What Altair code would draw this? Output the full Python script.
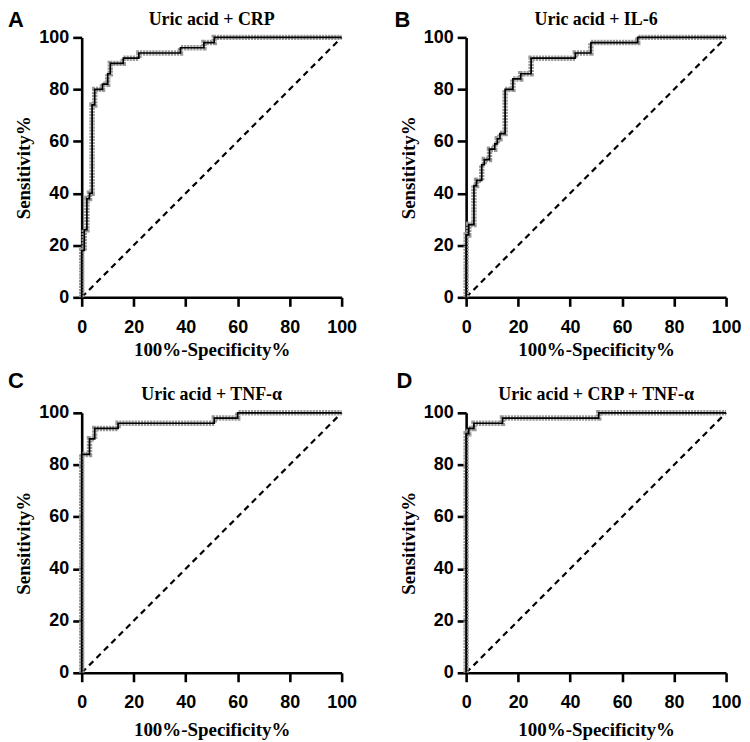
import altair as alt
import pandas as pd

# ---- data ----
x_ticks = [0, 20, 40, 60, 80, 100]
y_ticks = [0, 20, 40, 60, 80, 100]
ref_x = [0, 100]
ref_y = [0, 100]

# A: Uric acid + CRP
a_fpr = [0, 0, 1, 1, 2, 2, 3, 3, 4, 4, 5, 5, 8, 8, 10, 10, 11, 11, 16, 16, 22, 22, 38, 38, 47, 47, 51, 51, 100]
a_tpr = [0, 18, 18, 26, 26, 38, 38, 40, 40, 74, 74, 80, 80, 82, 82, 86, 86, 90, 90, 92, 92, 94, 94, 96, 96, 98, 98, 100, 100]

# B: Uric acid + IL-6
b_fpr = [0, 0, 1, 1, 3, 3, 4, 4, 6, 6, 7, 7, 9, 9, 11, 11, 12, 12, 13, 13, 15, 15, 18, 18, 21, 21, 25, 25, 42, 42, 48, 48, 66, 66, 100]
b_tpr = [0, 24, 24, 28, 28, 43, 43, 45, 45, 51, 51, 53, 53, 57, 57, 59, 59, 61, 61, 63, 63, 80, 80, 84, 84, 86, 86, 92, 92, 94, 94, 98, 98, 100, 100]

# C: Uric acid + TNF-alpha
c_fpr = [0, 0, 3, 3, 5, 5, 14, 14, 51, 51, 60, 60, 100]
c_tpr = [0, 84, 84, 90, 90, 94, 94, 96, 96, 98, 98, 100, 100]

# D: Uric acid + CRP + TNF-alpha
d_fpr = [0, 0, 1, 1, 3, 3, 14, 14, 51, 51, 100]
d_tpr = [0, 92, 92, 94, 94, 96, 96, 98, 98, 100, 100]

titles = ["Uric acid + CRP", "Uric acid + IL-6", "Uric acid + TNF-\u03b1", "Uric acid + CRP + TNF-\u03b1"]
letters = ["A", "B", "C", "D"]

SANS = "Liberation Sans"
SERIF = "Liberation Serif"
W = 261
H = 261


def panel(fpr, tpr, title, letter, lx, ly, ty, xtpad):
    df = pd.DataFrame({"fpr": fpr, "tpr": tpr, "idx": list(range(len(fpr)))})
    ref = pd.DataFrame({"fpr": ref_x, "tpr": ref_y})
    lab = pd.DataFrame({"t": [letter], "title": [title]})
    xs = alt.Scale(domain=[0, 100], nice=False)
    ys = alt.Scale(domain=[0, 100], nice=False)
    xax = alt.Axis(values=x_ticks, title="100%-Specificity%", labelFlush=False,
                   labelPadding=12, titlePadding=xtpad)
    yax = alt.Axis(values=y_ticks, title="Sensitivity%", labelFlush=False,
                   labelPadding=4, titlePadding=5)
    X = alt.X("fpr:Q", scale=xs, axis=xax)
    Y = alt.Y("tpr:Q", scale=ys, axis=yax)

    diag = alt.Chart(ref).mark_line(color="black", strokeDash=[6, 4.5], strokeWidth=2.2).encode(x=X, y=Y)
    halo = alt.Chart(df).mark_line(color="#9a9a9a", strokeWidth=5.5, strokeDash=[2.2, 0.9],
                                   strokeCap="butt", clip=False).encode(x=X, y=Y, order="idx:Q")
    line = alt.Chart(df).mark_line(color="black", strokeWidth=1.7, clip=False).encode(x=X, y=Y, order="idx:Q")
    letter_txt = alt.Chart(lab).mark_text(font=SANS, fontSize=22, fontWeight="bold", align="left",
                                          baseline="top", color="black").encode(
        text="t:N", x=alt.value(lx), y=alt.value(ly))
    title_txt = alt.Chart(lab).mark_text(font=SERIF, fontSize=18, fontWeight="bold", align="center",
                                         baseline="alphabetic", color="black").encode(
        text="title:N", x=alt.value(W / 2), y=alt.value(ty))
    return alt.layer(diag, halo, line, letter_txt, title_txt).properties(width=W, height=H)


pa = panel(a_fpr, a_tpr, titles[0], letters[0], -74, -27, -12, 4)
pb = panel(b_fpr, b_tpr, titles[1], letters[1], -72, -27, -12, 4)
pc = panel(c_fpr, c_tpr, titles[2], letters[2], -74, -42, -13, 9)
pd_ = panel(d_fpr, d_tpr, titles[3], letters[3], -70, -42, -13, 9)

chart = alt.concat(pa, pb, pc, pd_, columns=2, bounds="flush",
                   spacing=alt.RowColnumber(row=116, column=125)).properties(
    padding=0
).configure_view(stroke=None).configure_axis(
    grid=False,
    domainColor="black", domainWidth=2.6,
    tickColor="black", tickWidth=2.6, tickSize=9,
    labelFont=SANS, labelFontSize=18, labelFontWeight="bold", labelColor="black",
    titleFont=SERIF, titleFontSize=19, titleFontWeight="bold", titleColor="black",
)

chart.save("out.html", embed_options={"renderer": "svg", "actions": False})
